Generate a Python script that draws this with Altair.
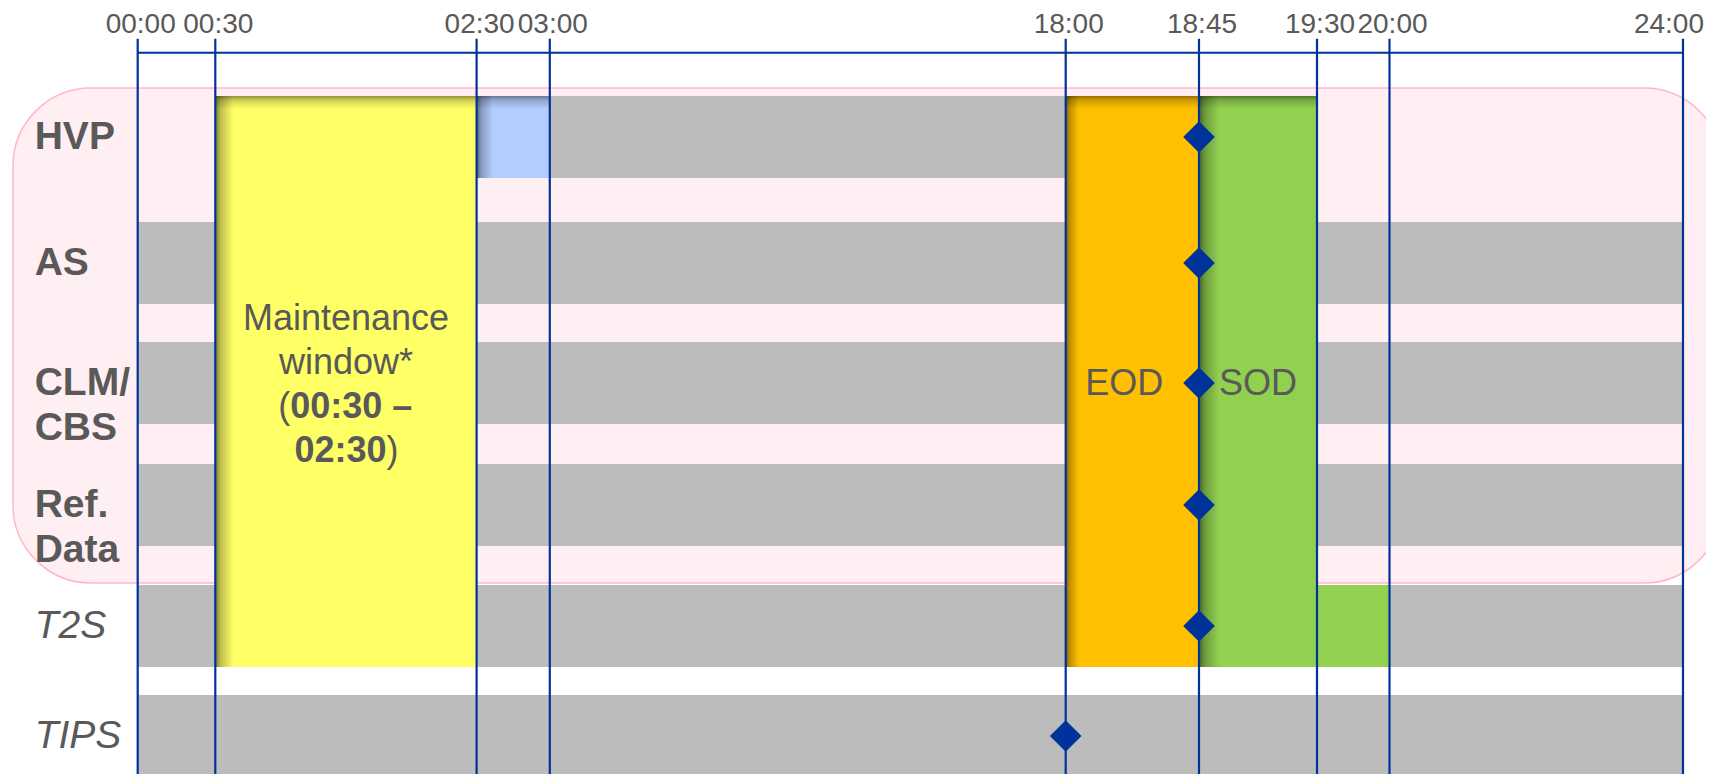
import numpy as np
import pandas as pd
import altair as alt

# ---------------- data ----------------
TICK_HOURS = [0, 0.5, 2.5, 3, 18, 18.75, 19.5, 20, 24]
TICK_LABELS = ["00:00", "00:30", "02:30", "03:00", "18:00", "18:45", "19:30", "20:00", "24:00"]

ROW_KEYS = ["HVP", "AS", "CLM", "REF", "T2S", "TIPS"]
ROW_LABELS = ["HVP", "AS", "CLM/\nCBS", "Ref.\nData", "T2S", "TIPS"]
ROW_ITALIC = [False, False, False, False, True, True]

# grey "service available" slots
GRAY_ROW = ["HVP", "AS", "AS", "AS", "CLM", "CLM", "CLM", "REF", "REF", "REF", "T2S", "T2S", "T2S", "TIPS"]
GRAY_START = [3, 0, 2.5, 19.5, 0, 2.5, 19.5, 0, 2.5, 19.5, 0, 2.5, 20, 0]
GRAY_END = [18, 0.5, 18, 24, 0.5, 18, 24, 0.5, 18, 24, 0.5, 18, 24, 24]

# phases spanning several rows
PHASE_TEXT = ["Maintenance", "EOD", "SOD"]
PHASE_START = [0.5, 18.0, 18.75]
PHASE_END = [2.5, 18.75, 19.5]
PHASE_TOP_ROW = ["HVP", "HVP", "HVP"]
PHASE_BOTTOM_ROW = ["T2S", "T2S", "T2S"]

# single-row slots
HVP_SLOT = {"row": "HVP", "start": 2.5, "end": 3.0}
T2S_SLOT = {"row": "T2S", "start": 19.5, "end": 20.0}

# milestones (diamonds)
MILESTONE_ROW = ["HVP", "AS", "CLM", "REF", "T2S", "TIPS"]
MILESTONE_HOUR = [18.75, 18.75, 18.75, 18.75, 18.75, 18.0]

PANEL_FIRST_ROW, PANEL_LAST_ROW = "HVP", "REF"

# ---------------- style / layout ----------------
FONT = "Liberation Sans"
BLUE = "#003399"
GRAY = "#BCBCBC"
YELLOW = "#FFFF66"
LIGHTBLUE = "#B4CCFF"
ORANGE = "#FFC000"
GREEN = "#92D050"
PINK = "#FFEEF2"
PINK_STROKE = "#FFB8C8"
TXT = "#595959"

X_RANGE = [0, 77.6, 338.9, 412.1, 928.0, 1061.3, 1179.3, 1251.8, 1545.3]
PLOT_W = 1545.3
PLOT_H = 721.3

# row layout: each row band is [i - HALF, i + HALF] in row units
HALF = 0.341
ROW_TOP_PX = [43.3, 169.3, 289.3, 411.3, 532.3, 642.3]
ROW_H_PX = 82.0
Y_DOMAIN, Y_RANGE = [], []
for i, t in enumerate(ROW_TOP_PX):
    Y_DOMAIN += [i - HALF, i + HALF]
    Y_RANGE += [t, t + ROW_H_PX]


def v_of_px(px):
    if px < Y_RANGE[0]:
        slope = (Y_DOMAIN[1] - Y_DOMAIN[0]) / (Y_RANGE[1] - Y_RANGE[0])
        return Y_DOMAIN[0] + (px - Y_RANGE[0]) * slope
    return float(np.interp(px, Y_RANGE, Y_DOMAIN))


X_SCALE = alt.Scale(domain=TICK_HOURS, range=X_RANGE, nice=False, zero=False)
Y_SCALE = alt.Scale(domain=Y_DOMAIN, range=Y_RANGE, nice=False, zero=False)

IDX = {k: i for i, k in enumerate(ROW_KEYS)}


def xpix(h):
    return float(np.interp(h, TICK_HOURS, X_RANGE))


def shade(hex_color, t):
    r, g, b = (int(hex_color[i:i + 2], 16) for i in (1, 3, 5))
    return "#%02x%02x%02x" % (int(r * (1 - t)), int(g * (1 - t)), int(b * (1 - t)))


def left_shadow(color, start, end, px):
    w = xpix(end) - xpix(start)
    s = min(px / w, 0.9)
    return alt.LinearGradient(
        gradient="linear", x1=0, x2=1, y1=0, y2=0,
        stops=[
            alt.GradientStop(offset=0, color=shade(color, 0.5)),
            alt.GradientStop(offset=s * 0.3, color=shade(color, 0.25)),
            alt.GradientStop(offset=s, color=color),
            alt.GradientStop(offset=1, color=color),
        ],
    )


def span_chart(df, mark):
    return alt.Chart(df).mark_rect(**mark).transform_calculate(
        top=f"datum.row - {HALF}", bottom=f"datum.row_end + {HALF}"
    ).encode(
        x=alt.X("start:Q", scale=X_SCALE, axis=None),
        x2="end:Q",
        y=alt.Y("top:Q", scale=Y_SCALE, axis=None),
        y2="bottom:Q",
    )


layers = []

# pink panel behind the first rows (8px above first row, ending 2px above the row after the last)
first, last = IDX[PANEL_FIRST_ROW], IDX[PANEL_LAST_ROW]
p_top = v_of_px(ROW_TOP_PX[first] - 8)
p_bot = v_of_px(ROW_TOP_PX[last + 1] - 2)
layers.append(
    alt.Chart(pd.DataFrame({"row": [first]})).mark_rect(fill=PINK, stroke=PINK_STROKE, strokeWidth=1.5, cornerRadius=78)
    .transform_calculate(top=f"{p_top}", bottom=f"{p_bot}")
    .encode(x=alt.value(-124.7), x2=alt.value(1584.3),
            y=alt.Y("top:Q", scale=Y_SCALE, axis=None), y2="bottom:Q")
)

# grey slots
gray_df = pd.DataFrame({"row": [IDX[r] for r in GRAY_ROW], "row_end": [IDX[r] for r in GRAY_ROW],
                        "start": GRAY_START, "end": GRAY_END})
layers.append(span_chart(gray_df, dict(fill=GRAY)))

# single row slots
hvp_df = pd.DataFrame({"row": [IDX[HVP_SLOT["row"]]], "row_end": [IDX[HVP_SLOT["row"]]],
                       "start": [HVP_SLOT["start"]], "end": [HVP_SLOT["end"]]})
layers.append(span_chart(hvp_df, dict(color=left_shadow(LIGHTBLUE, HVP_SLOT["start"], HVP_SLOT["end"], 16))))
t2s_df = pd.DataFrame({"row": [IDX[T2S_SLOT["row"]]], "row_end": [IDX[T2S_SLOT["row"]]],
                       "start": [T2S_SLOT["start"]], "end": [T2S_SLOT["end"]]})
layers.append(span_chart(t2s_df, dict(fill=GREEN)))

# phases
PHASE_COLORS = [YELLOW, ORANGE, GREEN]
PHASE_SHADOW = [18, 13, 20]
for i in range(len(PHASE_TEXT)):
    df = pd.DataFrame({"row": [IDX[PHASE_TOP_ROW[i]]], "row_end": [IDX[PHASE_BOTTOM_ROW[i]]],
                       "start": [PHASE_START[i]], "end": [PHASE_END[i]]})
    layers.append(span_chart(df, dict(color=left_shadow(PHASE_COLORS[i], PHASE_START[i], PHASE_END[i], PHASE_SHADOW[i]))))

# top inner shadows (13px deep)
sh_df = pd.DataFrame({
    "row": [IDX[r] for r in PHASE_TOP_ROW] + [IDX[HVP_SLOT["row"]]],
    "start": PHASE_START + [HVP_SLOT["start"]],
    "end": PHASE_END + [HVP_SLOT["end"]],
})
sh_depth = 13.0 * (2 * HALF) / ROW_H_PX
top_grad = alt.LinearGradient(
    gradient="linear", x1=0, x2=0, y1=0, y2=1,
    stops=[alt.GradientStop(offset=0, color="rgba(0,0,0,0.42)"),
           alt.GradientStop(offset=0.35, color="rgba(0,0,0,0.18)"),
           alt.GradientStop(offset=1, color="rgba(0,0,0,0)")],
)
layers.append(
    alt.Chart(sh_df).mark_rect(color=top_grad)
    .transform_calculate(top=f"datum.row - {HALF}", bottom=f"datum.row - {HALF} + {sh_depth}")
    .encode(x=alt.X("start:Q", scale=X_SCALE, axis=None), x2="end:Q",
            y=alt.Y("top:Q", scale=Y_SCALE, axis=None), y2="bottom:Q")
)


def text_layer(x, y, text, **mk):
    df = pd.DataFrame({"x": [x], "y": [y], "t": [text]})
    base = dict(font=FONT, fontSize=36, color=TXT, baseline="alphabetic")
    base.update(mk)
    return alt.Chart(df).mark_text(**base).encode(
        x=alt.X("x:Q", scale=X_SCALE, axis=None),
        y=alt.Y("y:Q", scale=Y_SCALE, axis=None),
        text="t:N",
    )


mid_row = (IDX[PHASE_TOP_ROW[0]] + IDX[PHASE_BOTTOM_ROW[0]]) / 2
mx = (PHASE_START[0] + PHASE_END[0]) / 2
layers += [
    text_layer(mx, mid_row, "Maintenance", align="center", dy=-53),
    text_layer(mx, mid_row, "window*", align="center", dy=-9),
    text_layer(mx, mid_row, "(", align="right", dx=-55.8, dy=35),
    text_layer(mx, mid_row, "00:30 \u2013", align="left", dx=-55.8, dy=35, fontWeight="bold"),
    text_layer(mx, mid_row, "02:30", align="right", dx=40.6, dy=79, fontWeight="bold"),
    text_layer(mx, mid_row, ")", align="left", dx=40.6, dy=79),
    text_layer((PHASE_START[1] + PHASE_END[1]) / 2, mid_row, PHASE_TEXT[1], align="center", dx=-8, dy=12),
    text_layer((PHASE_START[2] + PHASE_END[2]) / 2, mid_row, PHASE_TEXT[2], align="center", dy=12),
]

# time axis: vertical lines, axis line and tick labels through the x scale
tick_df = pd.DataFrame({"hour": TICK_HOURS, "label": TICK_LABELS})
layers.append(
    alt.Chart(tick_df).mark_rule(color=BLUE, strokeWidth=2.2)
    .encode(x=alt.X("hour:Q", scale=X_SCALE, axis=None), y=alt.value(-14), y2=alt.value(PLOT_H))
)
layers.append(
    alt.Chart(pd.DataFrame({"a": [min(TICK_HOURS)], "b": [max(TICK_HOURS)]}))
    .mark_rule(color=BLUE, strokeWidth=2)
    .encode(x=alt.X("a:Q", scale=X_SCALE, axis=None), x2="b:Q", y=alt.value(0))
)
label_style = dict(font=FONT, fontSize=28, color=TXT, baseline="alphabetic")
last_hour = max(TICK_HOURS)
layers.append(
    alt.Chart(tick_df).transform_filter(f"datum.hour < {last_hour}")
    .mark_text(align="center", dx=3, **label_style)
    .encode(x=alt.X("hour:Q", scale=X_SCALE, axis=None), y=alt.value(-20), text="label:N")
)
# last label kept inside the page edge (flush like an axis end label)
layers.append(
    alt.Chart(tick_df).transform_filter(f"datum.hour == {last_hour}")
    .mark_text(align="right", dx=21, **label_style)
    .encode(x=alt.X("hour:Q", scale=X_SCALE, axis=None), y=alt.value(-20), text="label:N")
)

# milestones
ms_df = pd.DataFrame({"row": [IDX[r] for r in MILESTONE_ROW], "hour": MILESTONE_HOUR})
layers.append(
    alt.Chart(ms_df).mark_point(shape="diamond", filled=True, size=1000, color=BLUE, opacity=1, strokeWidth=0)
    .encode(x=alt.X("hour:Q", scale=X_SCALE, axis=None), y=alt.Y("row:Q", scale=Y_SCALE, axis=None))
)

# row labels
lab_df = pd.DataFrame({"row": list(range(len(ROW_KEYS))), "label": ROW_LABELS, "italic": ROW_ITALIC})
for italic in (False, True):
    mk = dict(font=FONT, fontSize=39, color=TXT, align="left", baseline="middle", lineBreak="\n", lineHeight=45)
    if italic:
        mk["fontStyle"] = "italic"
    else:
        mk["fontWeight"] = "bold"
    layers.append(
        alt.Chart(lab_df).transform_filter(f"datum.italic == {str(italic).lower()}")
        .mark_text(**mk)
        .encode(x=alt.value(-103), y=alt.Y("row:Q", scale=Y_SCALE, axis=None), text="label:N")
    )

chart = alt.layer(*layers).properties(
    width=PLOT_W, height=PLOT_H,
    padding={"left": 129.7, "top": 44.7, "right": 23, "bottom": 0},
    autosize=alt.AutoSizeParams(type="none"),
).configure_view(stroke=None)

chart.save("out.html", embed_options={"renderer": "svg", "actions": False})
